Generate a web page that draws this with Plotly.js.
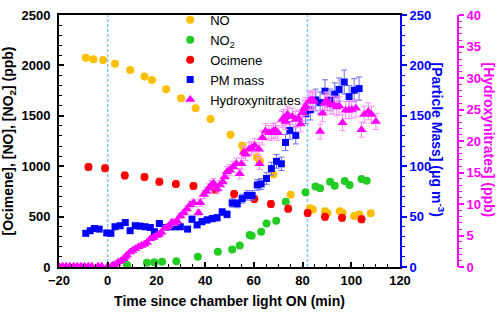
<!DOCTYPE html>
<html>
<head>
<meta charset="utf-8">
<script src="https://cdn.plot.ly/plotly-3.0.1.min.js"></script>
<style>html,body{margin:0;padding:0;background:#fff;}#chart{width:500px;height:315px;}</style>
</head>
<body>
<div id="chart"></div>
<script>
// ---- Data ----
const noTime = [-9.0,-5.9,-1.9,3.0,9.2,15.1,18.2,24.0,30.1,36.1,42.2,50.4,55.2,55.9,61.3,62.5,68.0,75.1,83.1,84.2,89.2,90.2,95.3,96.4,101.2,103.2,108.0];
const noVal  = [2075,2062,2053,2017,1955,1890,1855,1764,1673,1576,1469,1313,1206,1138,1090,1051,920,717,584,571,552,535,554,538,506,522,532];

const no2Time = [7.9,16.1,19.1,22.3,28.2,37.0,45.2,51.1,54.2,58.3,59.1,63.0,65.2,69.2,73.1,81.2,85.3,87.2,91.3,93.2,97.3,99.3,104.2,106.3];
const no2Val  = [20,42,46,52,58,102,152,174,214,318,311,350,431,460,648,742,798,781,846,806,853,814,872,856];

const ociTime = [-7.9,-1.1,7.0,15.1,21.2,28.0,35.2,44.2,51.9,60.2,67.0,74.1,82.1,89.2,96.2,104.2];
const ociVal  = [992,980,908,892,846,824,804,766,723,674,625,579,535,498,488,474];

const pmTime = [-9.0,-7.2,-5.5,-3.5,-0.4,1.3,3.0,5.1,7.2,9.2,11.3,13.3,15.4,17.5,19.2,21.2,23.6,25.7,27.8,29.8,32.8,34.6,36.7,38.7,40.8,42.9,44.9,47.0,49.0,51.1,53.2,55.2,57.3,59.3,61.4,63.0,65.2,67.2,69.3,71.3,73.0,74.8,77.2,81.3,83.2,85.4,87.2,89.2,91.3,93.2,95.0,97.1,99.1,101.2,103.2];
const pmVal  = [33.4,36.0,38.2,37.6,33.8,33.4,39.9,40.9,44.1,36.0,40.9,40.6,39.9,39.2,35.0,43.1,39.2,39.9,39.9,39.9,37.6,47.4,41.8,45.0,46.7,48.0,48.9,54.5,52.2,63.5,62.9,67.8,71.0,71.0,81.4,82.4,87.8,97.6,104.8,102.4,123.5,135.5,130.6,152.0,156.0,165.7,163.1,174.4,165.7,171.5,176.1,183.5,169.0,175.4,177.0];

const hnTime = [-20,-18.5,-17,-15.5,-14,-12.5,-11,-9.5,-8,-6.5,-4,-2.5,0,1.5,2.3,3.5,4.4,5.5,6.5,7.2,7.9,9.2,10.2,11.3,12.6,13.8,15.0,16.1,17.5,18.8,20.2,21.0,22.0,23.6,25.0,26.4,27.5,28.5,29.8,31.2,32.5,33.9,35.3,37.3,38.0,39.4,40.5,41.5,42.5,43.5,44.9,46.0,47.2,48.0,49.0,50.1,51.5,52.8,54.2,54.9,55.9,56.6,58.0,59.0,60.3,62.1,62.3,63.5,64.8,66.2,67.2,68.0,68.9,69.9,71.7,72.3,73.0,73.8,74.4,75.8,77.2,78.3,79.2,79.9,80.6,81.3,82.6,83.3,84.0,84.7,87.2,88.2,89.0,89.5,90.2,91.6,92.9,94.0,95.0,96.4,97.7,99.1,100.2,101.9,104.2,105.3,107.0,108.3,110.1];
const hnVal  = [0.1,0.1,0.1,0.1,0.1,0.1,0.1,0.1,0.1,0.1,0.1,0.1,0.1,0.1,0.3,0.5,0.8,1.0,1.3,1.6,1.9,2.4,2.6,2.9,3.2,3.4,3.6,3.9,4.5,4.7,5.0,5.2,5.5,6.2,6.5,7.1,7.0,7.3,8.1,8.6,9.2,9.9,10.2,8.6,10.2,11.5,12.0,12.5,13.0,13.3,12.4,13.0,13.5,14.3,15.1,15.4,15.9,16.4,14.8,16.4,18.2,17.9,18.7,18.9,19.3,18.7,16.4,20.5,21.6,21.3,21.3,21.6,21.7,21.3,23.4,23.7,23.1,24.2,23.9,23.9,23.4,23.6,22.7,24.5,25.1,25.5,26.3,26.5,26.5,26.3,21.5,24.4,26.0,26.3,26.3,25.7,25.7,25.4,25.6,22.9,24.9,24.9,25.0,25.2,21.8,24.2,24.7,24.2,23.1];

const lightOnTimes = [0, 82];
const seriesNames = ['NO', 'NO<sub>2</sub>', 'Ocimene', 'PM mass', 'Hydroxynitrates'];

// ---- Styling ----
const FONT = 'Liberation Sans, Arial, Helvetica, sans-serif';
const C_NO = '#FFBF00', C_NO2 = '#22CC22', C_OCI = '#FF0000', C_PM = '#0000FF', C_HN = '#FF00FF';

const traces = [
  {x: noTime, y: noVal, name: seriesNames[0], type: 'scatter', mode: 'markers', yaxis: 'y',
   marker: {symbol: 'circle', size: 8, color: C_NO}},
  {x: no2Time, y: no2Val, name: seriesNames[1], type: 'scatter', mode: 'markers', yaxis: 'y',
   marker: {symbol: 'circle', size: 8, color: C_NO2},
   error_y: {type: 'constant', value: 18, color: '#90E890', thickness: 1, width: 3}},
  {x: ociTime, y: ociVal, name: seriesNames[2], type: 'scatter', mode: 'markers', yaxis: 'y',
   marker: {symbol: 'circle', size: 8, color: C_OCI},
   error_y: {type: 'constant', value: 35, color: '#FF8C8C', thickness: 1, width: 3}},
  {x: pmTime, y: pmVal, name: seriesNames[3], type: 'scatter', mode: 'markers', yaxis: 'y2',
   marker: {symbol: 'square', size: 7, color: C_PM},
   error_y: {type: 'percent', value: 6.5, color: '#6B6BFF', thickness: 1, width: 3}},
  {x: hnTime, y: hnVal, name: seriesNames[4], type: 'scatter', mode: 'markers', yaxis: 'y3',
   marker: {symbol: 'triangle-up', size: 9, color: C_HN},
   error_y: {type: 'percent', value: 5.5, color: '#FF8CFF', thickness: 1, width: 3}}
];

const tickFont = (c) => ({family: FONT, size: 13, weight: 'bold', color: c});
const titleFont = (c) => ({family: FONT, size: 14, weight: 'bold', color: c});
const boldTicks = {tickprefix: '<b>', ticksuffix: '</b>'};

const layout = {
  width: 500, height: 315,
  margin: {l: 59, r: 5, t: 10, b: 48},
  paper_bgcolor: '#fff', plot_bgcolor: '#fff',
  font: {family: FONT, color: '#000'},
  showlegend: true,
  legend: {x: 0.255, y: 1.04, xanchor: 'left', yanchor: 'top', bgcolor: 'rgba(0,0,0,0)',
           font: {family: FONT, size: 13, color: '#000'}, tracegroupgap: 0},
  xaxis: Object.assign({
    domain: [0, 0.7821], range: [-20, 120], tick0: 0, dtick: 20,
    showline: true, linecolor: '#000', linewidth: 2, mirror: true,
    ticks: 'inside', ticklen: 5, tickwidth: 1.5, tickcolor: '#000',
    minor: {ticks: 'inside', ticklen: 3, dtick: 5, tickcolor: '#000', tickwidth: 1},
    showgrid: false, zeroline: false, tickfont: tickFont('#000'),
    title: {text: 'Time since chamber light ON (min)', font: titleFont('#000'), standoff: 10}
  }, boldTicks),
  yaxis: Object.assign({
    range: [0, 2500], dtick: 500,
    showline: true, linecolor: '#000', linewidth: 2,
    ticks: 'inside', ticklen: 5, tickwidth: 1.5, tickcolor: '#000',
    minor: {ticks: 'inside', ticklen: 3, dtick: 100, tickcolor: '#000', tickwidth: 1},
    showgrid: false, zeroline: false, tickfont: tickFont('#000'), ticklabelstandoff: 4,
    title: {text: '[Ocimene], [NO], [NO<sub>2</sub>] (ppb)', font: titleFont('#000'), standoff: 6}
  }, boldTicks),
  yaxis2: Object.assign({
    overlaying: 'y', side: 'right', anchor: 'x', range: [0, 250], dtick: 50,
    showline: true, linecolor: C_PM, linewidth: 2,
    ticks: 'outside', ticklen: 5, tickwidth: 1.5, tickcolor: C_PM,
    minor: {ticks: 'outside', ticklen: 3, dtick: 10, tickcolor: C_PM, tickwidth: 1},
    showgrid: false, zeroline: false, tickfont: tickFont(C_PM)
  }, boldTicks),
  yaxis3: Object.assign({
    overlaying: 'y', side: 'right', anchor: 'free', position: 0.9151, range: [0, 40], dtick: 5,
    showline: true, linecolor: C_HN, linewidth: 2,
    ticks: 'outside', ticklen: 5, tickwidth: 1.5, tickcolor: C_HN,
    minor: {ticks: 'outside', ticklen: 3, dtick: 1, tickcolor: C_HN, tickwidth: 1},
    showgrid: false, zeroline: false, tickfont: tickFont(C_HN)
  }, boldTicks),
  shapes: lightOnTimes.map(t => ({type: 'line', xref: 'x', yref: 'paper', x0: t, x1: t, y0: 0, y1: 1,
    line: {color: '#7CC8F2', width: 1.5, dash: '3px,2px'}, layer: 'below'})),
  annotations: [
    {xref: 'paper', yref: 'paper', x: 0.869, y: 0.506, xanchor: 'center', yanchor: 'middle',
     textangle: 90, showarrow: false,
     text: '[Particle Mass] (μg m<sup>-3</sup>)', font: titleFont(C_PM)},
    {xref: 'paper', yref: 'paper', x: 0.984, y: 0.506, xanchor: 'center', yanchor: 'middle',
     textangle: 90, showarrow: false,
     text: '[Hydroxynitrates] (ppb)', font: titleFont(C_HN)}
  ]
};

Plotly.newPlot('chart', traces, layout, {displayModeBar: false, responsive: false});
</script>
</body>
</html>
